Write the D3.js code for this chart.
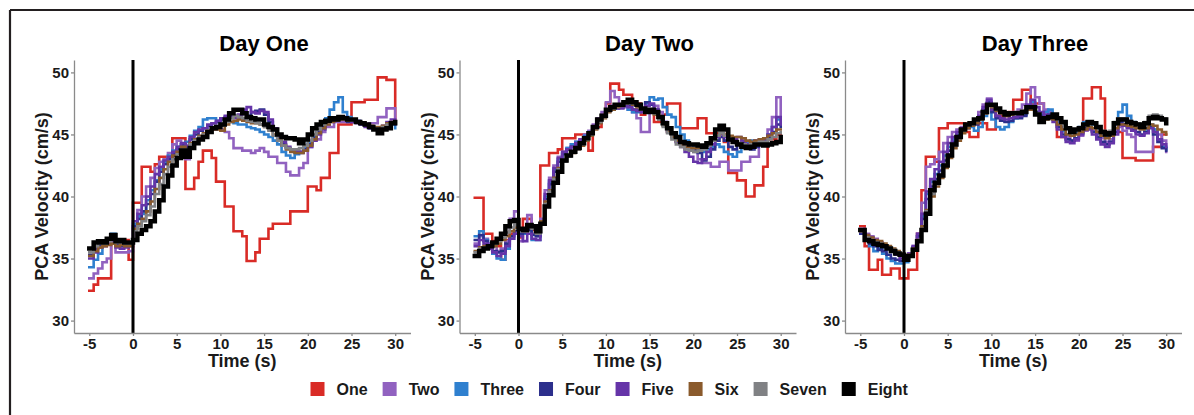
<!DOCTYPE html>
<html>
<head>
<meta charset="utf-8">
<script src="https://cdn.jsdelivr.net/npm/d3@7"></script>
<style>
  html, body { margin: 0; padding: 0; background: #ffffff; }
  svg { display: block; font-family: "Liberation Sans", Arial, Helvetica, sans-serif; }
</style>
</head>
<body>
<svg id="chart" width="1194" height="415"></svg>
<script>
// ---------- DATA ----------
const panelTitles = ["Day One", "Day Two", "Day Three"];
const seriesNames = ["One", "Two", "Three", "Four", "Five", "Six", "Seven", "Eight"];
const seriesColors = ["#d92b26", "#9162c0", "#2f80cf", "#2c2f8c", "#6534a8", "#8a5a2c", "#808184", "#000000"];
const xTicks = [-5, 0, 5, 10, 15, 20, 25, 30];
const yTicks = [30, 35, 40, 45, 50];
const time = [-5,-4.5,-4,-3.5,-3,-2.5,-2,-1.5,-1,-0.5,0,0.5,1,1.5,2,2.5,3,3.5,4,4.5,5,5.5,6,6.5,7,7.5,8,8.5,9,9.5,10,10.5,11,11.5,12,12.5,13,13.5,14,14.5,15,15.5,16,16.5,17,17.5,18,18.5,19,19.5,20,20.5,21,21.5,22,22.5,23,23.5,24,24.5,25,25.5,26,26.5,27,27.5,28,28.5,29,29.5,30];

// Day One
const d1One = [32.4,32.9,33.4,33.4,33.4,36.5,36.5,36.5,36.5,34.9,39.5,39.5,42.4,42.4,42.0,42.6,43.2,43.2,43.2,44.7,44.7,44.7,40.6,40.6,41.5,42.8,43.7,43.7,43.1,41.2,41.2,39.2,39.2,37.2,37.2,36.8,34.8,34.8,35.5,36.6,36.6,37.4,37.8,37.8,37.8,37.8,38.8,38.8,38.8,38.8,40.8,40.8,40.5,41.5,41.5,43.5,43.5,45.8,45.8,45.8,47.6,47.6,47.6,47.8,47.8,47.8,49.6,49.6,49.4,49.4,46.0];
const d1Two = [33.4,33.8,34.2,34.7,35.0,36.2,35.5,35.5,35.5,35.6,37.5,38.9,40.0,40.8,41.5,42.3,42.8,43.0,43.5,44.2,44.5,43.2,43.0,44.0,44.5,44.8,45.0,45.3,45.4,45.5,45.4,45.2,44.7,43.9,43.9,43.7,43.7,43.5,43.7,43.9,43.6,43.2,43.2,42.7,42.7,42.0,41.7,41.7,42.3,42.7,44.0,44.6,44.6,45.2,45.6,45.6,46.0,46.0,46.0,46.2,46.0,45.9,45.9,45.8,45.9,45.9,46.4,46.4,47.1,47.1,46.3];
const d1Three = [34.3,34.9,35.4,36.1,36.6,37.0,36.5,36.3,36.3,36.3,37.8,38.4,38.6,39.7,40.5,41.3,42.2,42.8,43.3,43.7,44.0,44.2,44.4,44.9,45.3,45.6,46.2,46.3,46.3,46.1,46.3,46.2,46.0,45.9,45.8,45.8,45.6,45.5,45.4,45.2,45.0,44.8,44.5,44.2,43.6,43.3,43.1,43.4,43.6,44.0,44.3,44.8,45.2,45.8,46.3,47.0,47.6,48.0,46.8,46.4,46.1,46.0,45.8,45.7,45.6,45.4,45.3,45.5,45.8,45.8,45.5];
const d1Four = [35.3,35.8,36.0,36.2,36.4,36.6,36.2,36.0,36.1,36.2,37.6,38.2,38.8,39.4,40.2,41.2,42.0,42.6,43.0,43.4,43.8,44.2,44.0,44.6,45.0,45.3,45.5,45.7,45.9,46.0,46.2,46.4,46.6,46.5,46.3,46.2,46.5,46.8,46.9,47.0,46.6,46.0,45.4,44.8,44.2,43.9,43.7,43.6,43.5,43.8,44.2,44.7,45.2,45.6,45.9,46.1,46.2,46.3,46.3,46.0,46.2,46.1,45.9,45.7,45.5,45.4,45.3,45.6,45.9,46.0,45.8];
const d1Five = [35.0,35.5,35.9,36.0,36.2,36.4,35.9,35.8,35.9,36.0,38.0,38.6,39.3,40.0,40.8,41.8,42.4,42.9,43.2,43.6,44.0,44.3,44.1,44.8,45.2,45.4,45.5,45.8,45.9,46.1,46.3,46.5,46.4,46.3,46.6,47.0,47.2,46.8,46.7,46.9,46.8,46.2,45.5,44.9,44.4,44.0,43.8,43.7,43.6,43.7,44.0,44.5,45.0,45.4,45.8,46.0,46.1,46.3,46.4,46.1,46.0,46.0,45.8,45.6,45.5,45.4,45.4,45.7,46.0,46.2,46.0];
const d1Six = [35.2,35.6,35.9,36.0,36.1,36.2,36.0,36.1,36.0,36.0,37.4,37.8,38.2,38.8,39.6,40.6,41.5,42.2,42.8,43.3,43.6,44.0,43.8,44.3,44.6,44.9,45.1,45.3,45.4,45.4,45.3,45.8,46.0,46.1,46.2,46.1,46.0,45.9,45.9,45.8,45.6,45.4,45.0,44.6,44.1,43.8,43.6,43.5,43.5,43.7,44.1,44.6,45.1,45.5,45.8,46.0,46.1,46.2,46.2,46.1,46.1,46.0,45.9,45.8,45.7,45.6,45.6,45.7,45.9,46.0,45.9];
const d1Seven = [35.5,36.0,36.2,36.2,36.4,36.7,36.3,36.3,36.2,36.2,37.2,37.6,38.0,38.5,39.2,40.2,41.0,41.8,42.4,43.0,43.4,43.8,43.6,44.2,44.5,44.8,45.0,45.3,45.5,45.6,45.7,46.0,46.3,46.5,46.4,46.3,46.1,46.0,45.9,45.8,45.6,45.3,44.9,44.5,44.1,43.9,43.8,43.8,43.9,44.1,44.5,45.0,45.4,45.8,46.0,46.2,46.2,46.3,46.3,46.2,46.1,46.0,45.9,45.8,45.6,45.5,45.4,45.6,45.8,46.0,46.0];
const d1Eight = [35.8,36.3,36.4,36.3,36.6,36.9,36.4,36.5,36.3,36.3,36.5,37.0,37.3,37.6,38.0,38.8,39.7,40.8,41.7,42.5,43.1,43.7,43.2,43.9,44.3,44.6,44.8,45.2,45.5,45.6,45.8,46.2,46.7,47.0,47.0,46.7,46.4,46.3,46.2,46.2,45.8,45.6,45.4,45.0,44.8,44.7,44.7,44.6,44.3,44.6,45.0,45.5,45.8,46.0,46.1,46.3,46.2,46.4,46.3,46.2,46.2,46.0,45.9,45.8,45.6,45.4,45.1,45.4,45.5,45.9,46.0];

// Day Two
const d2One = [39.9,39.9,37.0,37.0,36.4,36.0,34.9,36.5,37.0,37.2,36.7,38.2,38.2,37.3,37.3,42.5,42.5,43.5,43.5,43.8,44.7,44.7,44.7,45.0,45.0,45.0,43.7,45.6,45.6,46.6,47.5,49.1,49.1,48.6,48.2,48.2,47.5,47.5,46.6,47.0,47.0,46.0,46.0,46.6,47.5,47.5,47.5,45.5,45.5,45.5,45.5,46.3,46.3,45.1,45.1,45.1,45.1,44.4,41.9,41.9,41.3,41.3,40.0,40.0,40.9,40.9,42.4,44.6,44.6,45.0,45.0];
const d2Two = [36.2,36.8,36.6,36.2,36.0,35.6,35.8,36.4,38.2,38.8,36.4,37.0,38.5,37.0,36.8,38.2,40.5,41.5,42.5,43.2,43.6,43.9,44.2,44.4,44.6,45.0,45.3,45.8,46.3,46.8,47.6,48.5,48.0,47.4,47.2,47.0,46.8,46.3,45.2,45.2,46.9,47.3,46.8,46.0,45.3,44.8,44.4,44.2,44.0,43.8,43.6,43.0,42.7,42.7,42.4,42.4,42.8,42.8,42.1,42.1,42.1,42.8,42.8,43.2,43.2,44.6,44.6,45.4,46.4,48.0,46.5];
const d2Three = [36.8,37.2,36.5,35.8,35.4,35.0,34.9,35.8,36.6,37.5,37.2,37.0,37.4,36.5,36.5,37.9,40.0,41.2,42.2,43.0,43.5,43.9,44.2,44.4,44.6,44.9,45.2,45.6,46.1,46.5,46.9,47.2,47.3,47.2,47.3,47.0,46.8,46.8,47.0,47.5,48.0,47.8,47.9,47.2,46.6,46.4,45.6,45.0,44.5,44.2,44.0,43.8,43.6,43.8,44.0,44.2,44.0,43.6,43.4,43.2,43.6,44.0,44.4,44.5,44.3,44.4,44.6,45.0,45.6,46.2,45.8];
const d2Four = [36.5,36.9,36.4,36.0,35.6,35.5,35.6,36.2,36.8,37.2,37.0,37.1,37.3,36.9,36.8,38.0,39.8,41.0,42.0,42.8,43.4,43.8,44.0,44.2,44.5,44.8,45.1,45.6,46.1,46.5,46.9,47.0,47.1,47.2,47.4,47.3,47.0,46.9,47.1,47.6,47.4,47.0,46.4,46.0,45.5,45.0,44.6,44.2,44.0,43.9,43.8,43.5,42.9,43.2,43.8,44.5,44.8,44.5,44.0,43.8,44.2,44.4,44.0,43.8,44.0,44.3,44.5,44.8,45.2,45.8,45.6];
const d2Five = [36.0,36.5,36.2,35.8,35.5,35.2,35.4,36.0,36.6,37.0,36.8,36.4,37.0,36.6,36.5,37.8,40.2,41.3,42.3,43.1,43.6,43.8,44.0,44.3,44.6,44.8,45.1,45.5,46.0,46.4,46.9,47.3,47.2,47.1,47.3,47.2,47.0,46.9,46.8,47.3,47.5,47.0,46.3,45.8,45.2,44.8,44.4,44.0,43.6,43.2,42.8,42.7,43.0,43.6,44.2,44.8,45.0,44.8,44.5,44.6,44.8,44.5,44.2,44.3,44.5,44.4,44.6,45.0,45.6,46.4,45.8];
const d2Six = [35.6,35.9,36.0,36.0,36.0,36.2,36.5,36.8,37.2,37.5,37.3,37.2,37.5,37.6,37.4,38.0,39.6,40.5,41.5,42.3,42.9,43.2,43.5,43.8,44.1,44.5,44.9,45.4,45.9,46.3,46.8,47.0,47.2,47.3,47.5,47.6,47.4,47.2,47.0,46.8,46.9,46.6,46.2,45.7,45.2,44.8,44.5,44.2,44.0,43.9,43.9,43.9,43.9,44.2,44.5,44.9,45.1,45.0,44.9,44.8,44.8,44.7,44.5,44.4,44.5,44.6,44.7,44.9,45.1,45.4,45.4];
const d2Seven = [35.5,35.8,35.9,36.0,36.2,36.4,36.7,37.1,37.5,37.7,37.2,37.2,37.5,37.4,37.0,37.8,39.4,40.4,41.4,42.2,42.8,43.2,43.5,43.8,44.2,44.6,45.0,45.5,46.0,46.4,46.9,47.1,47.3,47.4,47.5,47.6,47.5,47.3,47.0,46.8,46.9,46.7,46.2,45.6,45.1,44.6,44.2,44.0,43.8,43.7,43.6,43.7,43.8,44.1,44.5,44.9,45.1,44.9,44.6,44.4,44.3,44.2,44.1,44.2,44.3,44.4,44.4,44.6,44.8,45.1,45.2];
const d2Eight = [35.2,35.6,35.8,36.0,36.3,36.6,37.0,37.6,38.0,38.1,37.4,37.3,37.7,37.6,37.2,37.8,39.2,40.1,41.1,42.0,42.9,43.3,43.6,43.9,44.3,44.7,45.1,45.6,46.2,46.5,47.0,47.2,47.4,47.4,47.6,47.8,47.6,47.4,47.1,46.8,47.0,46.8,46.4,45.9,45.5,45.1,44.8,44.4,44.3,44.2,44.2,44.1,44.0,44.3,44.7,45.4,45.7,45.4,44.6,44.4,44.2,44.0,43.9,44.0,44.2,44.2,44.1,44.2,44.3,44.4,44.8];

// Day Three
const d3One = [37.6,36.0,34.1,34.1,34.9,33.7,33.7,34.2,34.2,33.4,33.4,34.1,34.1,37.0,40.5,43.2,43.2,42.8,45.5,45.5,45.9,45.9,45.9,45.9,45.2,44.8,44.8,45.9,45.9,45.4,45.4,46.5,46.5,46.5,46.8,47.8,47.8,48.6,48.6,47.5,47.5,47.5,46.3,46.3,46.3,44.8,44.8,44.8,45.2,45.2,45.2,47.9,47.9,48.8,48.8,47.9,45.2,45.2,45.2,45.2,43.1,43.1,43.1,42.9,42.9,42.9,42.9,44.0,44.0,45.0,45.0];
const d3Two = [37.4,37.0,36.8,36.6,36.3,36.0,35.8,35.6,35.5,35.3,35.0,35.4,36.0,37.0,39.5,42.4,42.6,43.0,43.6,44.3,44.8,45.2,45.4,45.6,45.8,45.8,46.2,46.8,47.4,47.9,47.2,46.4,46.2,46.5,46.7,46.8,47.0,47.4,48.3,48.8,48.0,47.5,47.0,46.8,46.3,45.6,45.2,44.8,44.5,44.5,44.9,45.3,45.5,45.3,45.0,44.7,44.4,44.6,45.4,45.6,45.3,45.0,44.8,43.6,43.6,43.6,43.6,45.4,45.0,44.5,43.6];
const d3Three = [37.2,36.6,36.0,35.6,35.8,35.4,35.0,34.8,34.6,34.6,34.7,35.2,35.9,36.8,38.4,40.2,41.2,41.8,42.5,43.3,44.0,44.6,45.0,45.4,45.6,45.6,45.3,45.6,46.5,47.4,46.2,45.6,45.4,45.6,46.0,46.3,46.4,46.6,47.3,47.6,46.8,46.6,46.8,47.0,46.6,46.0,45.3,45.0,44.9,45.2,45.6,46.0,46.0,45.8,45.5,45.0,44.8,45.0,45.8,46.8,47.4,46.5,46.0,45.8,45.6,45.4,45.8,45.4,44.6,44.0,43.8];
const d3Four = [37.0,36.6,36.2,36.0,35.7,35.6,35.3,35.0,34.9,34.8,34.9,35.3,35.9,36.8,38.2,39.8,40.8,41.4,42.1,42.9,43.7,44.4,44.9,45.3,45.5,45.7,45.8,46.3,47.0,47.6,46.8,46.3,46.1,46.0,46.1,46.3,46.3,46.5,47.0,47.3,46.8,46.5,46.5,46.6,46.2,45.6,45.0,44.6,44.5,44.7,45.1,45.5,45.5,45.2,44.8,44.4,44.2,44.4,45.2,46.0,45.8,45.6,45.4,45.2,45.0,45.2,45.6,45.0,44.4,43.9,43.7];
const d3Five = [37.2,36.9,36.7,36.5,36.3,36.0,35.8,35.6,35.3,35.0,35.0,35.4,36.0,37.0,38.6,40.4,41.4,42.2,42.8,43.6,44.3,44.8,45.2,45.5,45.7,45.9,46.0,46.5,47.2,47.8,47.0,46.5,46.3,46.2,46.3,46.4,46.5,46.8,47.4,47.8,47.2,46.8,46.6,46.4,46.0,45.4,44.8,44.4,44.3,44.6,45.0,45.4,45.4,45.0,44.6,44.2,44.0,44.3,45.0,45.8,45.7,45.5,45.3,45.0,44.9,45.1,45.5,45.2,44.6,44.2,44.0];
const d3Six = [37.2,36.9,36.7,36.5,36.4,36.2,36.0,35.8,35.6,35.4,35.1,35.3,35.8,36.5,37.6,38.9,40.0,40.8,41.5,42.3,43.1,43.9,44.5,45.1,45.5,45.7,45.9,46.2,46.7,47.3,47.2,46.9,46.7,46.5,46.6,46.7,46.8,46.9,47.0,47.0,46.6,46.2,46.2,46.3,46.2,45.8,45.4,45.0,44.9,45.0,45.2,45.4,45.6,45.5,45.2,44.9,44.7,44.9,45.5,45.8,45.8,45.7,45.6,45.5,45.4,45.5,45.8,45.7,45.4,45.2,45.0];
const d3Seven = [37.3,36.7,36.5,36.3,36.2,36.0,35.9,35.7,35.5,35.3,35.0,35.2,35.7,36.4,37.4,38.8,40.2,41.0,41.7,42.5,43.3,44.1,44.7,45.3,45.7,45.8,46.1,46.3,46.8,47.4,47.3,47.0,46.8,46.6,46.7,46.8,46.8,46.9,47.2,47.2,46.7,46.2,46.3,46.4,46.5,46.2,45.9,45.5,45.3,45.4,45.6,45.8,46.0,45.9,45.6,45.3,45.1,45.3,46.0,46.3,46.3,46.1,46.0,45.9,45.8,46.0,46.5,46.6,46.5,46.3,46.1];
const d3Eight = [37.3,36.5,36.4,36.2,36.1,36.0,35.8,35.6,35.4,35.3,34.9,35.2,35.7,36.4,37.3,38.6,40.5,41.1,41.7,42.5,43.3,44.2,44.8,45.4,45.8,45.9,46.2,46.3,46.8,47.4,47.4,47.1,46.8,46.6,46.7,46.7,46.7,46.8,47.2,47.2,46.6,46.0,46.3,46.4,46.6,46.3,46.0,45.5,45.2,45.4,45.5,45.8,46.0,45.9,45.6,45.2,45.0,45.1,45.9,46.2,46.2,46.0,45.9,45.8,45.6,45.9,46.3,46.4,46.3,46.2,45.9];

// ---------- BUILD ----------
const panels = [
  { title: panelTitles[0], series: [d1One, d1Two, d1Three, d1Four, d1Five, d1Six, d1Seven, d1Eight] },
  { title: panelTitles[1], series: [d2One, d2Two, d2Three, d2Four, d2Five, d2Six, d2Seven, d2Eight] },
  { title: panelTitles[2], series: [d3One, d3Two, d3Three, d3Four, d3Five, d3Six, d3Seven, d3Eight] }
];

const svg = d3.select("#chart");
svg.append("rect").attr("width", 1194).attr("height", 415).attr("fill", "#ffffff");

// outer frame (top and left edges)
svg.append("line").attr("x1", 10).attr("x2", 1194).attr("y1", 10).attr("y2", 10)
  .attr("stroke", "#231f20").attr("stroke-width", 2.2);
svg.append("line").attr("x1", 10).attr("x2", 10).attr("y1", 10).attr("y2", 415)
  .attr("stroke", "#231f20").attr("stroke-width", 2.2);

const plotLefts = [74, 459.5, 845];
const plotW = 336.5;
const plotTop = 60, plotBottom = 333;
const axisColor = "#8a8a8a";
const textColor = "#1a1a1a";

panels.forEach((p, pi) => {
  const left = plotLefts[pi];
  const x = d3.scaleLinear().domain([-6.75, 31.75]).range([left, left + plotW]);
  const y = d3.scaleLinear().domain([29, 51]).range([plotBottom, plotTop]);
  const g = svg.append("g");

  // series
  const line = d3.line().x((d, i) => x(time[i])).y(d => y(d)).curve(d3.curveStepAfter);
  p.series.forEach((vals, si) => {
    g.append("path").datum(vals)
      .attr("d", line)
      .attr("fill", "none")
      .attr("stroke", seriesColors[si])
      .attr("stroke-width", si === 7 ? 4.5 : 2.6)
      .attr("stroke-linejoin", "miter")
      .attr("stroke-linecap", "square");
  });

  // vertical line at t = 0
  g.append("line")
    .attr("x1", x(0)).attr("x2", x(0))
    .attr("y1", plotTop).attr("y2", plotBottom)
    .attr("stroke", "#000").attr("stroke-width", 3);

  // axes
  const fmt = d => String(d);
  const yAxis = d3.axisLeft(y).tickValues(yTicks).tickFormat(fmt).tickSize(3).tickSizeOuter(0).tickPadding(2);
  const xAxis = d3.axisBottom(x).tickValues(xTicks).tickFormat(fmt).tickSize(3).tickSizeOuter(0).tickPadding(2);
  const ya = g.append("g").attr("transform", `translate(${left},0)`).call(yAxis);
  const xa = g.append("g").attr("transform", `translate(0,${plotBottom})`).call(xAxis);
  [ya, xa].forEach(a => {
    a.select(".domain").attr("stroke", axisColor).attr("stroke-width", 1.3);
    a.selectAll(".tick line").attr("stroke", axisColor).attr("stroke-width", 1.3);
    a.selectAll(".tick text")
      .attr("fill", textColor)
      .style("font-size", "15px")
      .style("font-weight", "bold")
      .style("font-family", '"Liberation Sans", Arial, sans-serif');
  });

  // title
  g.append("text")
    .attr("x", left + 190).attr("y", 51)
    .attr("text-anchor", "middle")
    .attr("fill", "#000")
    .style("font-size", "22px").style("font-weight", "bold")
    .text(p.title);

  // x axis title
  g.append("text")
    .attr("x", left + plotW / 2).attr("y", 367)
    .attr("text-anchor", "middle")
    .attr("fill", textColor)
    .style("font-size", "18px").style("font-weight", "bold")
    .text("Time (s)");

  // y axis title
  g.append("text")
    .attr("transform", `translate(${left - 26},${(plotTop + plotBottom) / 2}) rotate(-90)`)
    .attr("text-anchor", "middle")
    .attr("fill", textColor)
    .style("font-size", "18px").style("font-weight", "bold")
    .text("PCA Velocity (cm/s)");
});

// legend
const legend = svg.append("g").attr("transform", "translate(310.5,389)");
let lx = 0;
seriesNames.forEach((name, i) => {
  const item = legend.append("g").attr("transform", `translate(${lx},0)`);
  item.append("rect").attr("x", 0).attr("y", -7).attr("width", 14).attr("height", 14)
    .attr("fill", seriesColors[i]);
  const t = item.append("text").attr("x", 26).attr("y", 0).attr("dy", "0.36em")
    .attr("fill", textColor)
    .style("font-size", "16px").style("font-weight", "bold")
    .text(name);
  const w = t.node().getComputedTextLength();
  lx += 26 + w + 15;
});
</script>
</body>
</html>
